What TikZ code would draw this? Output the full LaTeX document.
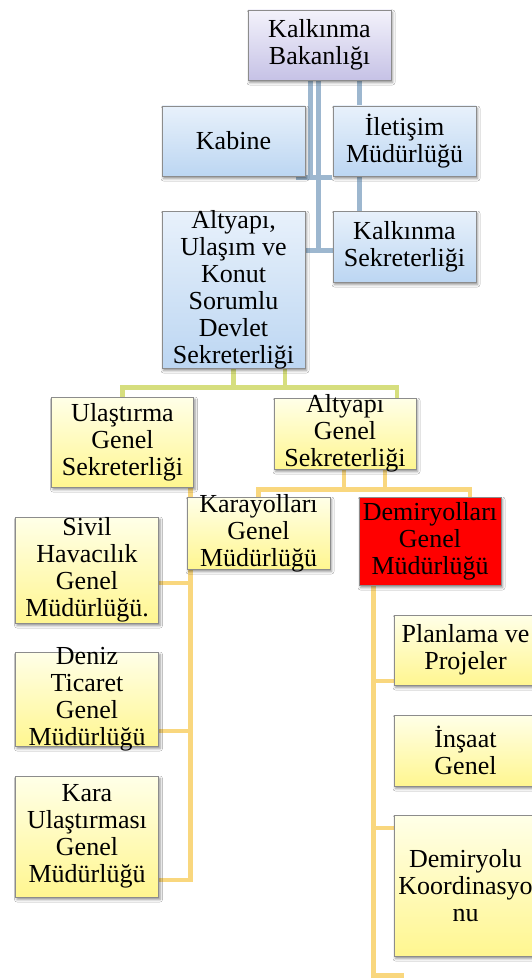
\documentclass[tikz,border=0pt]{standalone}
\usepackage{fontspec}
\setmainfont{Liberation Serif}
\newfontfamily\boxfont{Liberation Serif}
\usetikzlibrary{calc,shadows.blur,backgrounds}

\definecolor{lavtop}{HTML}{F3F2FB}
\definecolor{lavbot}{HTML}{C6C2E6}
\definecolor{bluetop}{HTML}{E8F1FB}
\definecolor{bluebot}{HTML}{BCD6F2}
\definecolor{yeltop}{HTML}{FFFFE8}
\definecolor{yelbot}{HTML}{FFF690}
\definecolor{boxedge}{HTML}{8C8C8C}
\definecolor{linkblue}{HTML}{9DB7CF}
\definecolor{linkolive}{HTML}{D6DE7E}
\definecolor{linkgold}{HTML}{F9D77E}

\tikzset{
  unitbox/.style={rectangle, draw=boxedge, line width=0.8pt, inner sep=0pt,
    minimum width=143pt,
    blur shadow={shadow xshift=1.5pt, shadow yshift=-2.5pt,
      shadow blur radius=2.5pt, shadow opacity=45}},
  lavbox/.style={unitbox, top color=lavtop, bottom color=lavbot},
  bluebox/.style={unitbox, top color=bluetop, bottom color=bluebot},
  yelbox/.style={unitbox, top color=yeltop, bottom color=yelbot},
  redbox/.style={unitbox, fill=red},
  caption/.style={inner sep=0pt, align=center, text=black,
    font=\boxfont\fontsize{26}{27}\selectfont},
  blink/.style={draw=linkblue, line width=5pt},
  olink/.style={draw=linkolive, line width=4.5pt},
  glink/.style={draw=linkgold, line width=4.5pt},
}

\begin{document}
\begin{tikzpicture}[x=1pt,y=-1pt]
\useasboundingbox (0,0) rectangle (532,979);
\clip (0,0) rectangle (532,979);

% ministry and its direct units
\node[lavbox, minimum height=70pt] (bak) at (319.5,45) {};
\node[bluebox, minimum height=70pt] (kab) at (233.5,141) {};
\node[bluebox, minimum height=70pt] (ilet) at (404.5,141) {};
\node[bluebox, minimum height=157pt] (adsk) at (233.5,289.5) {};
\node[bluebox, minimum height=71pt] (ksek) at (404.5,246.5) {};

% general secretariats
\node[yelbox, minimum width=142pt, minimum height=90pt] (ugs) at (122.5,442) {};
\node[yelbox, minimum width=142pt, minimum height=71pt] (ags) at (345,433.5) {};

% directorates
\node[yelbox, minimum height=72pt] (kgm) at (258.5,533) {};
\node[redbox, minimum width=142pt, minimum height=88pt] (dgm) at (430,541) {};
\node[yelbox, minimum height=106pt] (sivil) at (87,570) {};
\node[yelbox, minimum height=94pt] (deniz) at (87,699) {};
\node[yelbox, minimum height=121pt] (kara) at (87,836.5) {};
\node[yelbox, minimum height=70pt] (plan) at (465.5,650) {};
\node[yelbox, minimum height=71pt] (insaat) at (465.5,750.5) {};
\node[yelbox, minimum height=141pt] (koord) at (465.5,885.5) {};

% captions
\node[caption] (bak-t) at (bak.center) {Kalkınma\\Bakanlığı};
\node[caption] (kab-t) at (kab.center) {Kabine};
\node[caption] (ilet-t) at (ilet.center) {İletişim\\Müdürlüğü};
\node[caption] (adsk-t) at (adsk.center) {Altyapı,\\Ulaşım ve\\Konut\\Sorumlu\\Devlet\\Sekreterliği};
\node[caption] (ksek-t) at (ksek.center) {Kalkınma\\Sekreterliği};
\node[caption] (ugs-t) at (ugs.center) {Ulaştırma\\Genel\\Sekreterliği};
\node[caption] (ags-t) at (ags.center) {Altyapı\\Genel\\Sekreterliği};
\node[caption] (kgm-t) at (kgm.center) {Karayolları\\Genel\\Müdürlüğü};
\node[caption] (dgm-t) at (dgm.center) {Demiryolları\\Genel\\Müdürlüğü};
\node[caption] (sivil-t) at (sivil.center) {Sivil\\Havacılık\\Genel\\Müdürlüğü.};
\node[caption] (deniz-t) at (deniz.center) {Deniz\\Ticaret\\Genel\\Müdürlüğü};
\node[caption] (kara-t) at (kara.center) {Kara\\Ulaştırması\\Genel\\Müdürlüğü};
\node[caption] (plan-t) at (plan.center) {Planlama ve\\Projeler};
\node[caption] (insaat-t) at (insaat.center) {İnşaat\\Genel};
\node[caption] (koord-t) at (koord.center) {Demiryolu\\Koordinasyo\\nu};

\begin{pgfonlayer}{background}
  \fill[white] (0,0) rectangle (532,979);

  % ministry links
  \draw[blink] ($(bak.south)+(-9,0)$) -- ($(bak.south)+(-9,99)$);
  \draw[blink] ($(kab.south east)+(-9,1)$) -- ($(ilet.south west)+(-1,1)$);
  \draw[blink] ($(bak.south)+(-1,0)$) -- ($(bak.south)+(-1,172)$);
  \draw[blink] ($(adsk.east |- ksek.west)+(0,3.5)$) -- ($(ksek.west)+(0,3.5)$);
  \draw[blink] ($(bak.south)+(39.5,0)$) -- ($(ilet.north)+(-45.5,0)$);
  \draw[blink] ($(ilet.south)+(-45.5,0)$) -- ($(ksek.north)+(-45.5,0)$);

  % state secretariat links
  \draw[olink] (adsk.south) -- ++(0,21);
  \draw[olink] ($(adsk.south)+(51.5,0)$) -- ++(0,21);
  \draw[olink] (ugs.north) -- ++(0,-9) -| ($(ags.north)+(52,0)$);

  % infrastructure secretariat links
  \draw[glink] ($(ags.south)+(-1,0)$) -- ++(0,22);
  \draw[glink] ($(ags.south)+(40,0)$) -- ++(0,22);
  \draw[glink] (kgm.north) -- ++(0,-7) -| ($(dgm.north)+(40,0)$);

  % transport secretariat branch
  \draw[glink] ($(ugs.south east)+(-3.5,0)$) |- ($(kara.east)+(0,43.5)$);
  \draw[glink] ($(sivil.east)+(0,13)$) -- ($(sivil.east -| ugs.east)+(-3.5,13)$);
  \draw[glink] ($(deniz.east)+(0,32)$) -- ($(deniz.east -| ugs.east)+(-3.5,32)$);

  % railway directorate branch
  \draw[glink] ($(dgm.south west)+(15,0)$) |- ($(koord.south west)+(10,19)$);
  \draw[glink] ($(plan.west)+(0,31)$) -- ($(plan.west -| dgm.west)+(15,31)$);
  \draw[glink] ($(koord.west)+(0,-57.5)$) -- ($(koord.west -| dgm.west)+(15,-57.5)$);
\end{pgfonlayer}
\end{tikzpicture}
\end{document}
